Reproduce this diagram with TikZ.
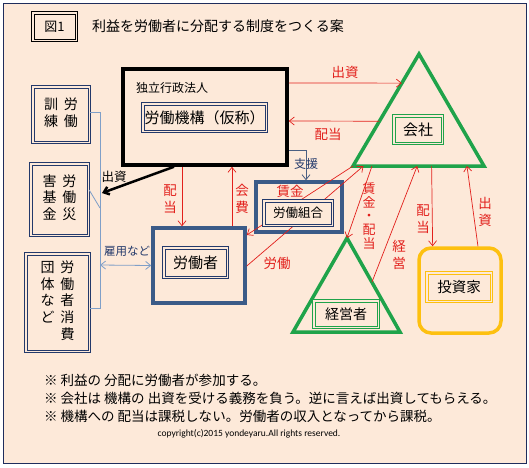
\documentclass[tikz,border=0pt]{standalone}
\usepackage{fontspec}
\setmainfont{Noto Sans CJK JP}
\newfontfamily\copyfont{Carlito}
\usetikzlibrary{arrows.meta,calc}
\definecolor{PeachBg}{HTML}{FDE9D9}
\definecolor{FrameNavy}{HTML}{1F2D5C}
\definecolor{BoxNavy}{HTML}{3B5B88}
\definecolor{LabelNavy}{HTML}{23396B}
\definecolor{FlowRed}{HTML}{E2201C}
\definecolor{FirmGreen}{HTML}{1FA34A}
\definecolor{InvestGold}{HTML}{FDC010}
\definecolor{BracketBlue}{HTML}{7F9FC8}
\definecolor{SupportSlate}{HTML}{4A5F82}

% two thin lines round a label node
\newcommand{\tagframe}[2][LabelNavy]{%
  \draw[#1, line width=0.7pt] (#2.south west) rectangle (#2.north east);
  \draw[#1, line width=0.7pt] ([shift={(2.1pt,2.1pt)}]#2.south west) rectangle ([shift={(-2.1pt,-2.1pt)}]#2.north east);}

\begin{document}
\begin{tikzpicture}[x=1pt, y=-1pt, >={Straight Barb[length=5pt,width=8pt]},
  every node/.style={inner sep=0pt}]
  \tikzstyle{tag}=[rectangle, align=center, fill=PeachBg]
  \tikzstyle{unit}=[rectangle, draw=BoxNavy, line width=3.5pt]
  \tikzstyle{tate}=[tag, font=\fontsize{14}{16.5}\selectfont]
  \tikzstyle{flow}=[->, line width=0.7pt, color=FlowRed]
  \tikzstyle{flowlbl}=[text=FlowRed, align=center, font=\fontsize{13.5}{17}\selectfont]
  \tikzstyle{note}=[anchor=west, font=\fontsize{13.5}{16}\selectfont]
  \useasboundingbox (0,0) rectangle (529,467);
  \draw[draw=FrameNavy, fill=PeachBg, line width=0.8pt] (3,3) rectangle (526,463);

  \node[tag, minimum width=45pt, minimum height=29pt, font=\fontsize{13}{13}\selectfont] (zu) at (54.5,26.5) {図1};
  \tagframe[black]{zu}
  \node[anchor=west, font=\fontsize{14}{14}\selectfont] (title) at (92,26) {利益を労働者に分配する制度をつくる案};

  \node[rectangle, draw=black, line width=3.5pt, minimum width=164pt, minimum height=96pt] (dokuritsu) at (205,117) {};
  \node[font=\fontsize{12}{12}\selectfont] (houjin) at (172,88) {独立行政法人};

  \node[tate, minimum width=58pt, minimum height=57pt] (kunren) at (61,114.5)
    {\begin{tabular}{@{}c@{\hspace{6pt}}c@{}}訓&労\\練&働\end{tabular}};
  \node[tate, minimum width=59pt, minimum height=73pt] (saigai) at (59.5,199.5)
    {\begin{tabular}{@{}c@{\hspace{6pt}}c@{}}害&労\\基&働\\金&災\end{tabular}};
  \node[tate, minimum width=65pt, minimum height=99pt] (shohi) at (57.5,302.5)
    {\begin{tabular}{@{}c@{\hspace{6pt}}c@{}}団&労\\体&働\\な&者\\ど&消\\&費\end{tabular}};
  \tagframe{kunren}
  \tagframe{saigai}
  \tagframe{shohi}

  \node[unit, minimum width=92pt, minimum height=75pt] (roudousha) at (199,265.5) {};
  \node[unit, minimum width=86pt, minimum height=50pt] (kumiai) at (299,207) {};
  \node[rectangle, rounded corners=12pt, draw=InvestGold, line width=3.5pt,
    minimum width=82pt, minimum height=85pt] (toushika) at (460,290.5) {};

  \coordinate (kA) at (419,54);
  \coordinate (kB) at (353,166);
  \coordinate (kC) at (484,166);
  \coordinate (eA) at (347,238);
  \coordinate (eB) at (293,332);
  \coordinate (eC) at (400,332);
  \draw[FirmGreen, line width=3.5pt] (kA) -- (kB) -- (kC) -- cycle;
  \draw[FirmGreen, line width=3.5pt] (eA) -- (eB) -- (eC) -- cycle;

  \coordinate (brtop) at (100,112);
  \coordinate (brmid) at (100,208);
  \coordinate (koyou) at (100,265);
  \coordinate (brbot) at (100,308);
  \coordinate (kikin) at (102,193);
  \draw[BracketBlue, line width=0.8pt] (kunren.east |- brtop) -- (brtop) -- (brbot) -- (shohi.east |- brbot);
  \draw[BracketBlue, line width=0.8pt] (saigai.east |- 0,190) -- (brmid);
  \draw[<->, BracketBlue, line width=0.8pt] (koyou) -- (roudousha.west);
  \node[text=LabelNavy, font=\fontsize{11.5}{11.5}\selectfont] (koyoulbl) at (127,251) {雇用など};

  \draw[->, line width=2.5pt, black] (dokuritsu.south -| 174,0) -- (kikin);
  \node[font=\fontsize{12.5}{12.5}\selectfont] (kikinlbl) at (114,177) {出資};

  \draw[->, SupportSlate, line width=0.8pt] (dokuritsu.east |- 0,150) -| (kumiai.north -| 306,0);
  \node[text=LabelNavy, font=\fontsize{12}{12}\selectfont] (shien) at (306,164) {支援};

  \draw[flow] (dokuritsu.east |- 0,83) -- ($(kA)!0.26!(kB)$);
  \draw[flow] ($(kA)!0.6!(kB)$) -- (dokuritsu.east |- 0,121);
  \draw[flow] (dokuritsu.south -| 182,0) -- (roudousha.north -| 182,0);
  \draw[flow] (roudousha.north -| 232,0) -- (dokuritsu.south -| 232,0);
  \draw[flow] (kB) -- (roudousha.east |- 0,235);
  \draw[flow] (roudousha.east |- 0,266) -- ($(kB)!0.08!(kC)$);
  \draw[flow] ($(kB)!0.145!(kC)$) -- (eA);
  \draw[flow] ($(eA)!0.47!(eC)$) -- ($(kB)!0.49!(kC)$);
  \draw[flow] ($(kB)!0.6!(kC)$) -- ($(toushika.north west)!0.18!(toushika.north east)$);
  \draw[flow] ($(toushika.north west)!0.71!(toushika.north east)$) -- ($(kB)!0.87!(kC)$);

  \node[flowlbl] (shusshiA) at (345,72) {出資};
  \node[flowlbl] (haitouA) at (328,134) {配当};
  \node[flowlbl] (haitouB) at (170,199) {配\\当};
  \node[flowlbl] (kaihi) at (242,199) {会\\費};
  \node[flowlbl] (chingin) at (290,191) {賃金};
  \node[flowlbl] (roudou) at (277,263) {労働};
  \node[flowlbl, font=\fontsize{13}{13.7}\selectfont] (chinhai) at (369,216) {賃\\金\\・\\配\\当};
  \node[flowlbl] (keiei) at (399,255) {経\\営};
  \node[flowlbl] (haitouC) at (423,219) {配\\当};
  \node[flowlbl] (shusshiC) at (485,212) {出\\資};

  \node[tag, minimum width=125pt, minimum height=29pt, font=\fontsize{15}{15}\selectfont] (kikou) at (204.5,117.5) {労働機構（仮称）};
  \node[tag, minimum width=65pt, minimum height=31pt, font=\fontsize{15}{15}\selectfont] (roudoushaTag) at (195.5,262.5) {労働者};
  \node[tag, minimum width=70pt, minimum height=26pt, font=\fontsize{12.5}{12.5}\selectfont] (kumiaiTag) at (298,213) {労働組合};
  \node[tag, minimum width=50pt, minimum height=29pt, font=\fontsize{15}{15}\selectfont] (kaisha) at (418,129.5) {会社};
  \node[tag, minimum width=66pt, minimum height=28pt, font=\fontsize{14}{14}\selectfont] (keieisha) at (346,314) {経営者};
  \node[tag, minimum width=66pt, minimum height=30pt, font=\fontsize{14.5}{14.5}\selectfont] (toushikaTag) at (459,287) {投資家};
  \tagframe{kikou}
  \tagframe{roudoushaTag}
  \tagframe{kumiaiTag}
  \tagframe[FirmGreen]{kaisha}
  \tagframe[FirmGreen]{keieisha}
  \tagframe[InvestGold]{toushikaTag}

  \node[note] (note1) at (44,380) {※ 利益の 分配に労働者が参加する。};
  \node[note] (note2) at (44,398) {※ 会社は 機構の 出資を受ける義務を負う。逆に言えば出資してもらえる。};
  \node[note] (note3) at (44,416) {※ 機構への 配当は課税しない。労働者の収入となってから課税。};
  \node[font=\copyfont\fontsize{9.5}{9.5}\selectfont] (copyline) at (249,434) {copyright(c)2015 yondeyaru.All rights reserved.};
\end{tikzpicture}
\end{document}
